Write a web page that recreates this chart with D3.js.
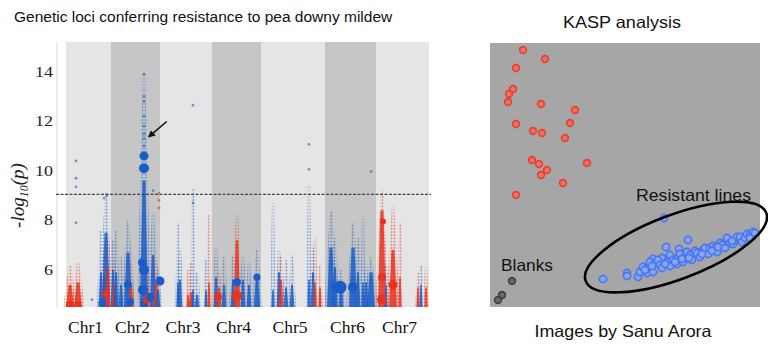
<!DOCTYPE html>
<html>
<head>
<meta charset="utf-8">
<script src="https://cdn.jsdelivr.net/npm/d3@7"></script>
<style>
  body { margin: 0; background: #fff; }
  svg { display: block; }
</style>
</head>
<body>
<div id="vis"></div>
<script>
// ---- Manhattan plot data (left) ----
const chromosomes = ["Chr1", "Chr2", "Chr3", "Chr4", "Chr5", "Chr6", "Chr7"];
const chrLengths = [450, 490, 520, 490, 640, 510, 530];   // Mb
const yTicks = [6, 8, 10, 12, 14];
const threshold = 9.05;

// streaks: [chr index, position Mb, top -log10p, solid up to, colour, width]
const streaks = [
  [0, 40, 6.2, 5.4, "r", 5], [0, 120, 6.3, 5.5, "r", 5], [0, 350, 7.6, 5.9, "b", 3],
  [0, 380, 6.8, 5.8, "r", 3], [0, 400, 9.1, 7.5, "b", 5], [0, 420, 7.3, 6.1, "r", 3],
  [1, 20, 7.2, 6.0, "b", 3], [1, 30, 6.4, 5.4, "r", 3], [1, 50, 7.6, 5.9, "b", 3],
  [1, 100, 6.5, 5.4, "b", 3], [1, 170, 8.0, 6.7, "b", 5], [1, 200, 6.3, 5.4, "r", 3],
  [1, 330, 13.9, 9.6, "b", 5], [1, 360, 6.4, 5.3, "r", 3], [1, 420, 8.3, 6.6, "b", 4],
  [1, 450, 6.6, 5.5, "r", 3], [1, 470, 6.0, 5.2, "b", 3],
  [2, 180, 7.9, 5.5, "b", 2], [2, 200, 6.8, 5.6, "b", 3], [2, 280, 6.0, 5.0, "r", 2],
  [2, 310, 6.3, 5.1, "r", 3], [2, 330, 9.3, 5.2, "b", 2], [2, 370, 5.9, 5.0, "b", 3],
  [2, 460, 6.4, 5.2, "b", 2], [2, 490, 8.2, 5.5, "r", 2],
  [3, 40, 6.9, 5.7, "b", 3], [3, 70, 6.0, 5.3, "r", 3], [3, 120, 6.5, 5.4, "b", 3],
  [3, 210, 6.6, 5.6, "b", 3], [3, 250, 8.2, 7.2, "r", 4], [3, 310, 6.6, 5.6, "b", 3],
  [3, 370, 6.3, 5.4, "b", 3], [3, 450, 6.8, 5.7, "b", 4],
  [4, 120, 8.7, 5.2, "b", 2], [4, 180, 6.8, 5.9, "b", 3], [4, 200, 6.6, 5.6, "r", 3],
  [4, 250, 6.4, 5.3, "b", 3], [4, 310, 6.6, 5.4, "b", 3], [4, 480, 9.4, 5.6, "b", 2],
  [4, 520, 6.9, 5.9, "b", 3], [4, 540, 7.3, 5.5, "r", 2], [4, 590, 6.2, 5.3, "r", 2],
  [5, 60, 8.4, 6.9, "b", 5], [5, 100, 7.3, 6.1, "b", 3], [5, 160, 6.0, 5.5, "b", 3],
  [5, 280, 7.9, 6.9, "b", 5], [5, 330, 7.3, 5.9, "b", 3], [5, 380, 8.1, 5.5, "b", 2],
  [5, 410, 6.2, 5.5, "b", 3], [5, 460, 6.5, 5.9, "b", 5],
  [6, 60, 9.2, 8.4, "r", 5], [6, 100, 6.2, 5.4, "b", 2], [6, 170, 8.6, 6.8, "r", 5],
  [6, 240, 7.9, 5.7, "r", 2], [6, 420, 5.9, 5.3, "r", 2], [6, 450, 6.2, 5.4, "b", 2],
  [6, 500, 6.1, 5.3, "r", 2]
];

// large markers: [chr index, position Mb, -log10p, radius, colour]
const bigDots = [
  [0, 40, 4.6, 4, "r"], [0, 120, 4.6, 3.5, "r"], [0, 360, 4.65, 3.5, "b"], [0, 400, 5.05, 3.5, "r"],
  [1, 170, 5.4, 4, "b"], [1, 190, 4.7, 4, "b"], [1, 330, 10.6, 4.5, "b"], [1, 330, 10.1, 5, "b"],
  [1, 310, 6.3, 4, "b"], [1, 330, 6.0, 5, "b"], [1, 320, 5.2, 5, "b"], [1, 330, 4.65, 4, "b"],
  [1, 360, 4.8, 4, "r"], [1, 390, 4.9, 4, "b"], [1, 490, 5.55, 4.5, "b"],
  [3, 60, 4.9, 4, "r"], [3, 250, 5.5, 4, "b"], [3, 250, 4.95, 5, "r"], [3, 450, 5.7, 3.5, "b"],
  [5, 100, 5.3, 4.5, "b"], [5, 150, 5.3, 6.5, "b"], [5, 280, 5.3, 5, "b"],
  [6, 70, 7.95, 3, "r"], [6, 60, 5.7, 4, "r"], [6, 60, 4.8, 5, "r"], [6, 170, 5.4, 4.5, "r"]
];

// isolated SNPs: [chr index, position Mb, -log10p, colour]
const loosePoints = [
  [0, 100, 10.4, "b"], [0, 100, 9.7, "b"], [0, 100, 9.35, "b"], [0, 100, 7.9, "b"],
  [0, 260, 4.8, "b"], [0, 410, 9.0, "b"], [0, 380, 8.9, "b"],
  [1, 330, 13.9, "b"], [1, 330, 13.0, "b"], [1, 330, 12.8, "b"], [1, 330, 12.2, "b"],
  [1, 330, 11.8, "b"], [1, 330, 11.5, "b"], [1, 330, 11.3, "b"], [1, 330, 11.0, "b"],
  [1, 420, 9.2, "b"], [1, 480, 9.1, "r"], [1, 480, 8.8, "r"], [1, 480, 8.5, "r"],
  [2, 330, 12.65, "b"], [2, 330, 8.7, "b"],
  [4, 480, 11.07, "b"], [4, 480, 10.06, "b"], [5, 460, 9.97, "b"]
];

// ---- KASP genotyping data (right), normalised fluorescence ----
const kaspRed = [
  [0.33, 2.57], [0.55, 2.48], [0.26, 2.39], [0.23, 2.18], [0.19, 2.13], [0.18, 2.05],
  [0.51, 2.03], [0.85, 1.97], [0.80, 1.84], [0.26, 1.83], [0.43, 1.76], [0.52, 1.74],
  [0.75, 1.69], [0.42, 1.47], [0.49, 1.43], [0.97, 1.44], [0.57, 1.37], [0.51, 1.32],
  [0.73, 1.24], [0.26, 1.12]
];
const kaspBlue = [
  [1.74, 0.89], [1.98, 0.67], [1.76, 0.60], [1.89, 0.58], [1.79, 0.50], [1.63, 0.48],
  [1.72, 0.49], [1.13, 0.28], [1.37, 0.34], [1.37, 0.31],
  [1.48, 0.30], [1.50, 0.35], [1.53, 0.40], [1.57, 0.34], [1.58, 0.39], [1.60, 0.45],
  [1.63, 0.35], [1.65, 0.44], [1.68, 0.47], [1.70, 0.42], [1.72, 0.39], [1.77, 0.45],
  [1.80, 0.52], [1.80, 0.41], [1.83, 0.47], [1.87, 0.43], [1.88, 0.49], [1.90, 0.53],
  [1.93, 0.45], [1.95, 0.50], [1.97, 0.55], [2.00, 0.52], [2.02, 0.47], [2.05, 0.56],
  [2.07, 0.54], [2.10, 0.50], [2.13, 0.57], [2.15, 0.59], [2.18, 0.53], [2.20, 0.59],
  [2.23, 0.61], [2.25, 0.59], [2.27, 0.55], [2.30, 0.64], [2.32, 0.62], [2.35, 0.59],
  [2.37, 0.69], [2.40, 0.64], [2.43, 0.63], [2.45, 0.67], [2.47, 0.70], [2.50, 0.70],
  [2.52, 0.65], [2.55, 0.69], [2.57, 0.73], [2.60, 0.72], [2.60, 0.69], [2.63, 0.75],
  [2.65, 0.74], [1.55, 0.37], [1.62, 0.41], [1.75, 0.43], [1.85, 0.45], [1.92, 0.48],
  [1.99, 0.49], [2.12, 0.53], [2.22, 0.56], [2.28, 0.60], [2.42, 0.66]
];
const kaspBlank = [[0.22, 0.26], [0.12, 0.12], [0.08, 0.07]];

const colours = { b: "#1a5cc8", r: "#e8331f" };

let w = 768, h = 354;
let svg = d3.select("#vis").append("svg")
  .attr("width", w)
  .attr("height", h)
  .style("font-family", "'Liberation Sans', Arial, sans-serif");

let defs = svg.append("defs");
Object.keys(colours).forEach(function(k) {
  let p = defs.append("pattern")
    .attr("id", "dots-" + k)
    .attr("patternUnits", "userSpaceOnUse")
    .attr("width", 3).attr("height", 3.2);
  p.append("circle").attr("cx", 1.5).attr("cy", 1.6).attr("r", 1.0)
    .attr("fill", colours[k]);
});
defs.append("marker")
  .attr("id", "arrowhead")
  .attr("viewBox", "0 0 10 10")
  .attr("refX", 8).attr("refY", 5)
  .attr("markerWidth", 4.5).attr("markerHeight", 4.5)
  .attr("orient", "auto")
  .append("path").attr("d", "M0,0 L10,5 L0,10 z").attr("fill", "#111");

// ---------- left: Manhattan ----------
let starts = [];
chrLengths.reduce(function(acc, l) { starts.push(acc); return acc + l; }, 0);
let total = d3.sum(chrLengths);

let x = d3.scaleLinear().domain([0, total]).range([66, 429]);
let y = d3.scaleLinear().domain([4.5, 15.2]).range([307, 42]);
let gx = function(c, pos) { return x(starts[c] + pos); };

svg.append("text")
  .attr("x", 14).attr("y", 22)
  .attr("font-size", 15.5)
  .attr("fill", "#111")
  .text("Genetic loci conferring resistance to pea downy mildew");

svg.append("line")
  .attr("x1", 57).attr("x2", 57).attr("y1", y(15.2)).attr("y2", y(4.5))
  .attr("stroke", "#ececec").attr("stroke-width", 2);

svg.selectAll("rect.band")
  .data(chromosomes)
  .enter()
  .append("rect")
  .attr("class", "band")
  .attr("x", function(d, i) { return x(starts[i]); })
  .attr("y", y(15.2))
  .attr("width", function(d, i) { return x(starts[i] + chrLengths[i]) - x(starts[i]); })
  .attr("height", y(4.5) - y(15.2))
  .attr("fill", function(d, i) { return i % 2 ? "#c6c6c6" : "#e5e5e5"; });

let plot = svg.append("g");
plot.append("clipPath").attr("id", "panel")
  .append("rect").attr("x", 56).attr("y", y(15.2))
  .attr("width", 380).attr("height", y(4.5) - y(15.2));
plot.attr("clip-path", "url(#panel)");

// taper shape: wide halo of points at the base narrowing to the top SNP
function taper(d, bottomW, topY, topW) {
  let cx = gx(d[0], d[1]), b = y(4.5);
  return "M" + (cx - bottomW / 2) + "," + b +
    "L" + (cx - topW / 2) + "," + topY +
    "L" + (cx + topW / 2) + "," + topY +
    "L" + (cx + bottomW / 2) + "," + b + "Z";
}

plot.selectAll("path.halo")
  .data(streaks)
  .enter()
  .append("path")
  .attr("class", "halo")
  .attr("d", function(d) { return taper(d, d[5] * 2.8, y(d[2]), 2.2); })
  .attr("fill", function(d) { return "url(#dots-" + d[4] + ")"; })
  .attr("opacity", 0.55);

plot.selectAll("path.core")
  .data(streaks)
  .enter()
  .append("path")
  .attr("class", "core")
  .attr("d", function(d) { return taper(d, d[5] * 1.6, y(d[3]), Math.max(1.5, d[5] * 0.6)); })
  .attr("fill", function(d) { return colours[d[4]]; })
  .attr("opacity", 0.85);

plot.selectAll("circle.loose")
  .data(loosePoints)
  .enter()
  .append("circle")
  .attr("class", "loose")
  .attr("cx", function(d) { return gx(d[0], d[1]); })
  .attr("cy", function(d) { return y(d[2]); })
  .attr("r", 1.4)
  .attr("fill", function(d) { return colours[d[3]]; })
  .attr("opacity", 0.6);

plot.selectAll("circle.big")
  .data(bigDots)
  .enter()
  .append("circle")
  .attr("class", "big")
  .attr("cx", function(d) { return gx(d[0], d[1]); })
  .attr("cy", function(d) { return y(d[2]); })
  .attr("r", function(d) { return d[3]; })
  .attr("fill", function(d) { return colours[d[4]]; });

svg.append("line")
  .attr("x1", 56).attr("x2", 431)
  .attr("y1", y(threshold)).attr("y2", y(threshold))
  .attr("stroke", "#444")
  .attr("stroke-width", 1.2)
  .attr("stroke-dasharray", "3,1.5");

// arrow to the main Chr2 peak
svg.append("line")
  .attr("x1", gx(1, 557)).attr("y1", y(11.99))
  .attr("x2", gx(1, 380)).attr("y2", y(11.38))
  .attr("stroke", "#111").attr("stroke-width", 1.6)
  .attr("marker-end", "url(#arrowhead)");

svg.selectAll("text.ytick")
  .data(yTicks)
  .enter()
  .append("text")
  .attr("class", "ytick")
  .attr("x", 53)
  .attr("y", function(d) { return y(d) + 5; })
  .attr("text-anchor", "end")
  .attr("font-family", "'Liberation Serif', 'Times New Roman', serif")
  .attr("font-size", 15)
  .attr("textLength", function(d) { return String(d).length * 9; })
  .attr("lengthAdjust", "spacingAndGlyphs")
  .attr("fill", "#222")
  .text(function(d) { return d; });

let ylab = svg.append("text")
  .attr("transform", "translate(24," + y(9.0) + ") rotate(-90)")
  .attr("text-anchor", "middle")
  .attr("font-family", "'Liberation Serif', 'Times New Roman', serif")
  .attr("font-style", "italic")
  .attr("font-size", 19)
  .attr("fill", "#222");
ylab.append("tspan").text("-log");
ylab.append("tspan").attr("font-size", 12).attr("dy", 4).text("10");
ylab.append("tspan").attr("dy", -4).text("(p)");

svg.selectAll("text.chr")
  .data(chromosomes)
  .enter()
  .append("text")
  .attr("class", "chr")
  .attr("x", function(d, i) { return x(starts[i] + chrLengths[i] / 2) - 3; })
  .attr("y", 333)
  .attr("text-anchor", "middle")
  .attr("font-family", "'Liberation Serif', 'Times New Roman', serif")
  .attr("font-size", 17.5)
  .attr("fill", "#111")
  .text(function(d) { return d; });

// ---------- right: KASP ----------
let kx = d3.scaleLinear().domain([0, 2.7]).range([490, 760]);
let ky = d3.scaleLinear().domain([0, 2.64]).range([307, 43]);

svg.append("text")
  .attr("x", 622).attr("y", 28)
  .attr("text-anchor", "middle")
  .attr("font-size", 16.5)
  .attr("textLength", 118).attr("lengthAdjust", "spacingAndGlyphs")
  .attr("fill", "#111")
  .text("KASP analysis");

svg.append("rect")
  .attr("x", kx(0)).attr("y", ky(2.64))
  .attr("width", kx(2.7) - kx(0))
  .attr("height", ky(0) - ky(2.64))
  .attr("fill", "#a6a6a6");

function dots(data, fill, stroke, r) {
  svg.append("g").selectAll("circle")
    .data(data)
    .enter()
    .append("circle")
    .attr("cx", function(d) { return kx(d[0]); })
    .attr("cy", function(d) { return ky(d[1]); })
    .attr("r", r)
    .attr("fill", fill)
    .attr("stroke", stroke)
    .attr("stroke-width", 1.6)
    .attr("stroke-opacity", 0.9);
}
dots(kaspRed, "#f27060", "#e23a2b", 3.4);
dots(kaspBlue, "#86a6f4", "#4470ee", 3.6);
dots(kaspBlank, "#6a6a6a", "#383838", 3.4);

svg.append("ellipse")
  .attr("transform", "translate(" + kx(1.86) + "," + ky(0.60) + ") rotate(-20.7)")
  .attr("rx", 96.5).attr("ry", 32)
  .attr("fill", "none")
  .attr("stroke", "#000")
  .attr("stroke-width", 2.6);

svg.append("text")
  .attr("x", kx(1.46)).attr("y", ky(1.06))
  .attr("font-size", 16.5)
  .attr("textLength", 115).attr("lengthAdjust", "spacingAndGlyphs")
  .attr("fill", "#111")
  .text("Resistant lines");

svg.append("text")
  .attr("x", kx(0.11)).attr("y", ky(0.36))
  .attr("font-size", 16.5)
  .attr("textLength", 52).attr("lengthAdjust", "spacingAndGlyphs")
  .attr("fill", "#111")
  .text("Blanks");

svg.append("text")
  .attr("x", 623).attr("y", 337)
  .attr("text-anchor", "middle")
  .attr("font-size", 16.5)
  .attr("textLength", 177).attr("lengthAdjust", "spacingAndGlyphs")
  .attr("fill", "#111")
  .text("Images by Sanu Arora");
</script>
</body>
</html>
